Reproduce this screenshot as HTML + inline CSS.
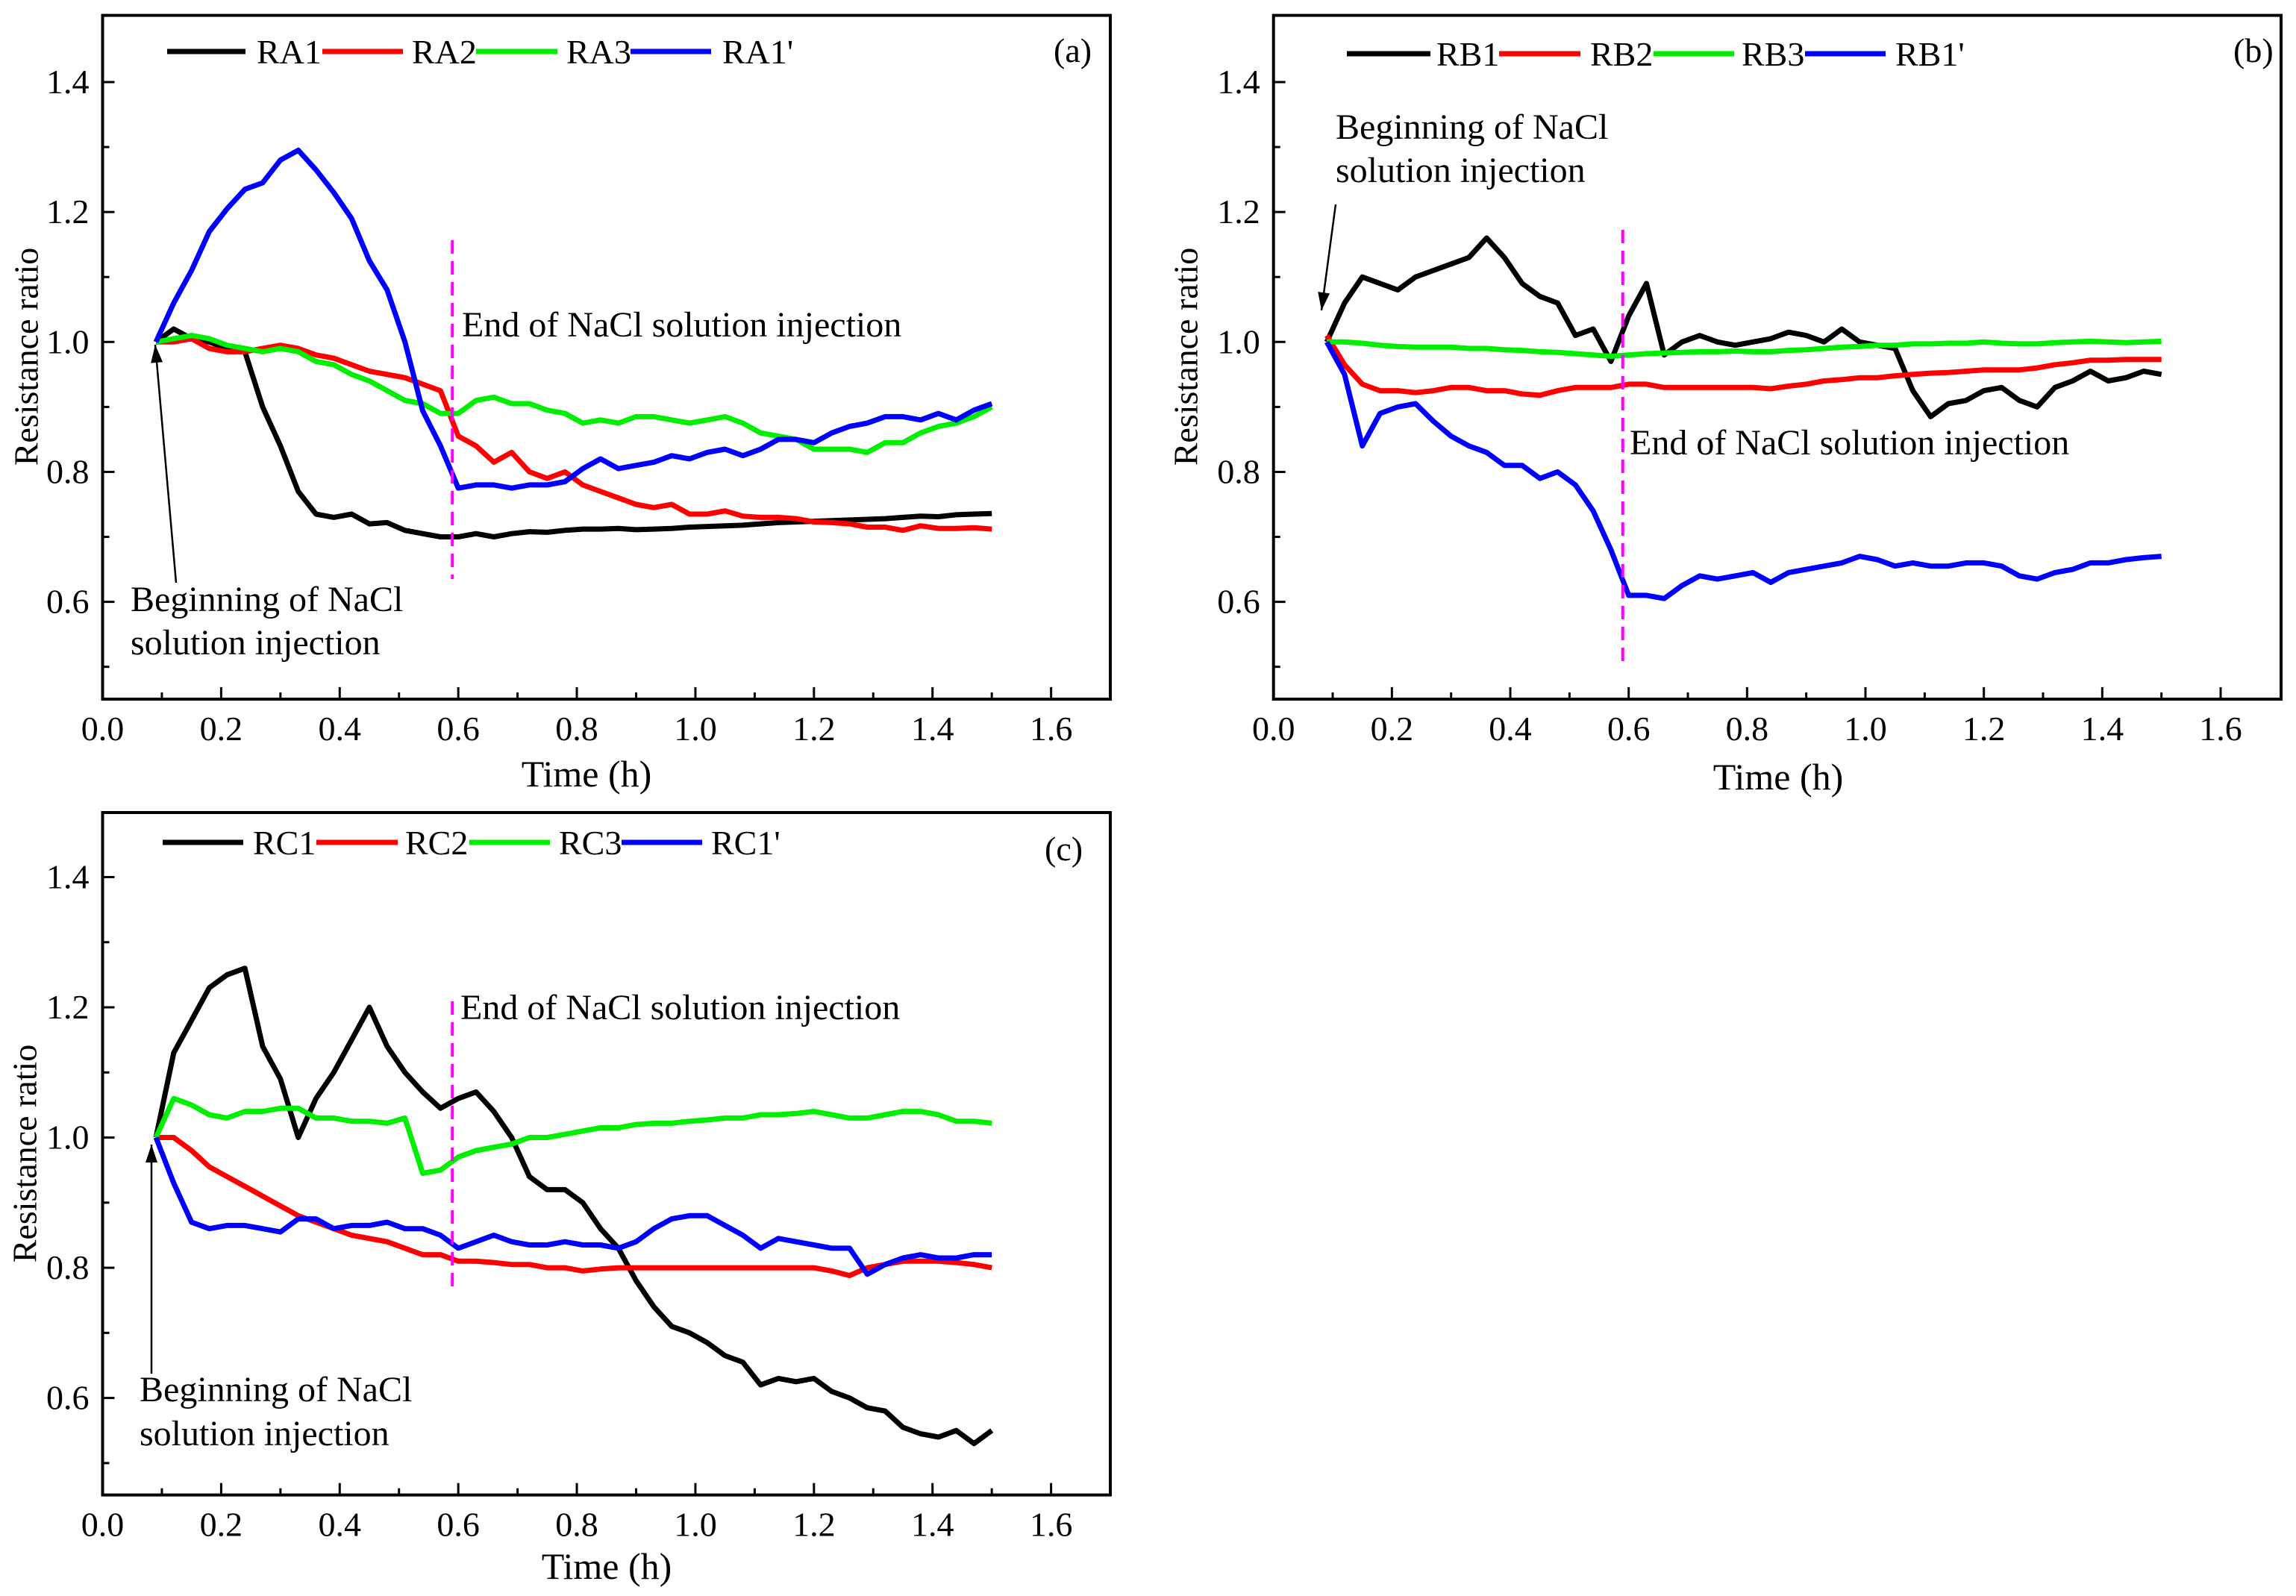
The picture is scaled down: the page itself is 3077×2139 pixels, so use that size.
<!DOCTYPE html>
<html><head><meta charset="utf-8"><style>
html,body{margin:0;padding:0;background:#fff;}
svg{display:block;font-family:"Liberation Serif","DejaVu Serif",serif;}
</style></head><body>
<svg id="fig" width="3077" height="2139" viewBox="0 0 3077 2139" xmlns="http://www.w3.org/2000/svg">
<rect width="3077" height="2139" fill="#fff"/>
</svg>
<script>
const times = [0.09,0.12,0.15,0.18,0.21,0.24,0.27,0.30,0.33,0.36,0.39,0.42,0.45,0.48,0.51,0.54,0.57,0.60,0.63,0.66,0.69,0.72,0.75,0.78,0.81,0.84,0.87,0.90,0.93,0.96,0.99,1.02,1.05,1.08,1.11,1.14,1.17,1.20,1.23,1.26,1.29,1.32,1.35,1.38,1.41,1.44,1.47,1.50];
const xTicks = [0.0,0.2,0.4,0.6,0.8,1.0,1.2,1.4,1.6];
const xTickLabels = ["0.0","0.2","0.4","0.6","0.8","1.0","1.2","1.4","1.6"];
const yTicks = [0.6,0.8,1.0,1.2,1.4];
const yTickLabels = ["0.6","0.8","1.0","1.2","1.4"];
const injectionEnd = 0.59;

const RA1 = [1.00,1.02,1.005,1.0,0.99,0.985,0.90,0.84,0.77,0.735,0.73,0.735,0.72,0.722,0.71,0.705,0.70,0.70,0.705,0.70,0.705,0.708,0.707,0.71,0.712,0.712,0.713,0.711,0.712,0.713,0.715,0.716,0.717,0.718,0.72,0.722,0.723,0.724,0.725,0.726,0.727,0.728,0.73,0.732,0.731,0.734,0.735,0.736];
const RA2 = [1.0,1.0,1.005,0.99,0.985,0.985,0.99,0.995,0.99,0.98,0.975,0.965,0.955,0.95,0.945,0.935,0.925,0.855,0.84,0.815,0.83,0.80,0.79,0.80,0.78,0.77,0.76,0.75,0.745,0.75,0.735,0.735,0.74,0.732,0.73,0.73,0.728,0.723,0.722,0.72,0.715,0.715,0.71,0.717,0.713,0.713,0.714,0.712];
const RA3 = [1.0,1.005,1.01,1.005,0.995,0.99,0.985,0.99,0.985,0.97,0.965,0.95,0.94,0.925,0.91,0.905,0.89,0.89,0.91,0.915,0.905,0.905,0.895,0.89,0.875,0.88,0.875,0.885,0.885,0.88,0.875,0.88,0.885,0.875,0.86,0.855,0.85,0.835,0.835,0.835,0.83,0.845,0.845,0.86,0.87,0.875,0.885,0.90];
const RA1p = [1.0,1.06,1.11,1.17,1.205,1.235,1.245,1.28,1.295,1.265,1.23,1.19,1.125,1.08,1.0,0.894,0.84,0.775,0.78,0.78,0.775,0.78,0.78,0.785,0.805,0.82,0.805,0.81,0.815,0.825,0.82,0.83,0.835,0.825,0.835,0.85,0.85,0.845,0.86,0.87,0.875,0.885,0.885,0.88,0.89,0.88,0.895,0.905];

const RB1 = [1.0,1.06,1.10,1.09,1.08,1.10,1.11,1.12,1.13,1.16,1.13,1.09,1.07,1.06,1.01,1.02,0.97,1.04,1.09,0.98,1.0,1.01,1.0,0.995,1.0,1.005,1.015,1.01,1.0,1.02,1.0,0.995,0.99,0.925,0.885,0.905,0.91,0.925,0.93,0.91,0.90,0.93,0.94,0.955,0.94,0.945,0.955,0.95];
const RB2 = [1.01,0.965,0.935,0.925,0.925,0.922,0.925,0.93,0.93,0.925,0.925,0.92,0.918,0.925,0.93,0.93,0.93,0.935,0.935,0.93,0.93,0.93,0.93,0.93,0.93,0.928,0.932,0.935,0.94,0.942,0.945,0.945,0.948,0.95,0.952,0.953,0.955,0.957,0.957,0.957,0.96,0.965,0.968,0.972,0.972,0.973,0.973,0.973];
const RB3 = [1.0,1.0,0.998,0.995,0.993,0.992,0.992,0.992,0.99,0.99,0.988,0.987,0.985,0.984,0.982,0.98,0.978,0.98,0.982,0.983,0.984,0.985,0.985,0.986,0.985,0.985,0.987,0.988,0.99,0.992,0.993,0.995,0.995,0.997,0.997,0.998,0.998,1.0,0.998,0.997,0.997,0.999,1.0,1.001,1.0,0.999,1.0,1.001];
const RB1p = [1.0,0.95,0.84,0.89,0.90,0.905,0.878,0.855,0.84,0.83,0.81,0.81,0.79,0.80,0.78,0.74,0.68,0.61,0.61,0.605,0.625,0.64,0.635,0.64,0.645,0.63,0.645,0.65,0.655,0.66,0.67,0.665,0.655,0.66,0.655,0.655,0.66,0.66,0.655,0.64,0.635,0.645,0.65,0.66,0.66,0.665,0.668,0.67];

const RC1 = [1.0,1.13,1.18,1.23,1.25,1.26,1.14,1.09,1.0,1.06,1.10,1.15,1.20,1.14,1.10,1.07,1.045,1.06,1.07,1.04,1.0,0.94,0.92,0.92,0.90,0.86,0.83,0.78,0.74,0.71,0.70,0.685,0.665,0.655,0.62,0.63,0.625,0.63,0.61,0.60,0.585,0.58,0.555,0.545,0.54,0.55,0.53,0.55];
const RC2 = [1.0,1.0,0.98,0.955,0.94,0.925,0.91,0.895,0.88,0.87,0.86,0.85,0.845,0.84,0.83,0.82,0.82,0.81,0.81,0.808,0.805,0.805,0.80,0.80,0.795,0.798,0.80,0.80,0.80,0.80,0.80,0.80,0.80,0.80,0.80,0.80,0.80,0.80,0.795,0.788,0.80,0.805,0.81,0.81,0.81,0.808,0.805,0.80];
const RC3 = [1.0,1.06,1.05,1.035,1.03,1.04,1.04,1.045,1.045,1.03,1.03,1.025,1.025,1.022,1.03,0.945,0.95,0.97,0.98,0.985,0.99,1.0,1.0,1.005,1.01,1.015,1.015,1.02,1.022,1.022,1.025,1.027,1.03,1.03,1.035,1.035,1.037,1.04,1.035,1.03,1.03,1.035,1.04,1.04,1.035,1.025,1.025,1.022];
const RC1p = [1.0,0.93,0.87,0.86,0.865,0.865,0.86,0.855,0.875,0.875,0.86,0.865,0.865,0.87,0.86,0.86,0.85,0.83,0.84,0.85,0.84,0.835,0.835,0.84,0.835,0.835,0.83,0.84,0.86,0.875,0.88,0.88,0.865,0.85,0.83,0.845,0.84,0.835,0.83,0.83,0.79,0.805,0.815,0.82,0.815,0.815,0.82,0.82];

const seriesColors = ["#000000","#ff0000","#00ee00","#0000ff"];

const panels = [
 {id:"a", names:["RA1","RA2","RA3","RA1'"], data:[RA1,RA2,RA3,RA1p],
  L:137.5,R:1488,T:20.6,B:937,x0:137.5,x16:1408.6,y14:110,y06:806.6,
  legY:69, legLines:[[224,329,344],[432,540,552],[638,747,759],[845,953,968]], tag:[1412,83],
  endText:[619,451], dash:[322,776], beg:[175,819,877], arrow:[236,781,208,462],
  xTitle:[786,1054], yTitle:[40,478]},
 {id:"b", names:["RB1","RB2","RB3","RB1'"], data:[RB1,RB2,RB3,RB1p],
  L:1706.7,R:3057,T:20.6,B:937,x0:1706.7,x16:2976,y14:110,y06:806.6,
  legY:72, legLines:[[1805,1917,1925],[2009,2118,2131],[2216,2324,2334],[2419,2527,2540]], tag:[2993,83],
  endText:[2184,609], dash:[308,895], beg:[1790,186,244], arrow:[1790,274,1771,416],
  xTitle:[2383,1058], yTitle:[1594,478]},
 {id:"c", names:["RC1","RC2","RC3","RC1'"], data:[RC1,RC2,RC3,RC1p],
  L:137.5,R:1488,T:1089,B:2003.6,x0:137.5,x16:1408.6,y14:1175.5,y06:1873.6,
  legY:1129, legLines:[[218,326,339],[424,533,543],[629,737,749],[833,941,953]], tag:[1400,1153],
  endText:[617,1366], dash:[1342,1734], beg:[187,1878,1937], arrow:[203,1841,203,1534],
  xTitle:[813,2116], yTitle:[38,1546]}
];

const NS="http://www.w3.org/2000/svg";
const svg=document.getElementById('fig');
function mk(tag,attrs,parent){const e=document.createElementNS(NS,tag);for(const k in attrs)e.setAttribute(k,attrs[k]);(parent||svg).appendChild(e);return e;}

panels.forEach(p=>{
  const X=t=>p.x0+t*(p.x16-p.x0)/1.6;
  const Y=v=>p.y14+(1.4-v)*(p.y06-p.y14)/0.8;
  const g=mk('g',{});
  
  
  p.data.forEach((arr,si)=>{
    const d=arr.map((v,i)=>(i?'L':'M')+X(times[i]).toFixed(1)+' '+Y(v).toFixed(1)).join(' ');
    const path=mk('path',{d:d,fill:'none',stroke:seriesColors[si],'stroke-width':7,'stroke-linejoin':'round'},g);
    
    
  });
  const fr=mk('rect',{x:p.L,y:p.T,width:p.R-p.L,height:p.B-p.T,fill:'none',stroke:'#000','stroke-width':4},g);
  
  
  for(let k=0;k<=16;k++){
    const t=k/10, x=X(t), major=k%2===0;
    const tk=mk('line',{x1:x,x2:x,y1:p.B,y2:p.B-(major?16:9),stroke:'#000','stroke-width':3},g);
    
    
  }
  xTicks.forEach((t,i)=>{
    const tx=mk('text',{x:X(t),y:p.B+55,'font-size':46,'text-anchor':'middle'},g);
    tx.textContent=xTickLabels[i];
    
    
  });
  for(let k=5;k<=14;k++){
    const v=k/10, y=Y(v), major=k%2===0;
    const tk=mk('line',{x1:p.L,x2:p.L+(major?16:9),y1:y,y2:y,stroke:'#000','stroke-width':3},g);
    
    
  }
  yTicks.forEach((v,i)=>{
    const tx=mk('text',{x:p.L-18,y:Y(v)+15,'font-size':46,'text-anchor':'end'},g);
    tx.textContent=yTickLabels[i];
    
    
  });
  const xt=mk('text',{x:p.xTitle[0],y:p.xTitle[1],'font-size':50,'text-anchor':'middle'},g);
  xt.textContent='Time (h)';
  
  
  const yt=mk('text',{x:p.yTitle[0],y:p.yTitle[1],'font-size':46,'text-anchor':'middle',transform:`rotate(-90 ${p.yTitle[0]} ${p.yTitle[1]})`,'dominant-baseline':'middle'},g);
  yt.textContent='Resistance ratio';
  
  
  p.legLines.forEach((l,i)=>{
    const ln=mk('line',{x1:l[0],x2:l[1],y1:p.legY,y2:p.legY,stroke:seriesColors[i],'stroke-width':7},g);
    
    
    const lt=mk('text',{x:l[2],y:p.legY+16,'font-size':46},g);
    lt.textContent=p.names[i];
    
    
  });
  const tag=mk('text',{x:p.tag[0],y:p.tag[1],'font-size':46},g);
  tag.textContent='('+p.id+')';
  
  
  const dl=mk('line',{x1:X(injectionEnd),x2:X(injectionEnd),y1:p.dash[0],y2:p.dash[1],stroke:'#ff00ff','stroke-width':4,'stroke-dasharray':'18 10'},g);
  
  
  const et=mk('text',{x:p.endText[0],y:p.endText[1],'font-size':48},g);
  et.textContent='End of NaCl solution injection';
  
  
  const b1=mk('text',{x:p.beg[0],y:p.beg[1],'font-size':48},g);
  b1.textContent='Beginning of NaCl';
  
  
  const b2=mk('text',{x:p.beg[0],y:p.beg[2],'font-size':48},g);
  b2.textContent='solution injection';
  
  
  const a=p.arrow;
  const ar=mk('line',{x1:a[0],y1:a[1],x2:a[2],y2:a[3],stroke:'#000','stroke-width':2.5},g);
  
  
  const ang=Math.atan2(a[3]-a[1],a[2]-a[0]);
  const hl=24, hw=8;
  const bx=a[2]-hl*Math.cos(ang), by=a[3]-hl*Math.sin(ang);
  const px=-Math.sin(ang)*hw, py=Math.cos(ang)*hw;
  const ah=mk('polygon',{points:`${a[2]},${a[3]} ${bx+px},${by+py} ${bx-px},${by-py}`,fill:'#000'},g);
  
  
});
</script>
</body></html>
